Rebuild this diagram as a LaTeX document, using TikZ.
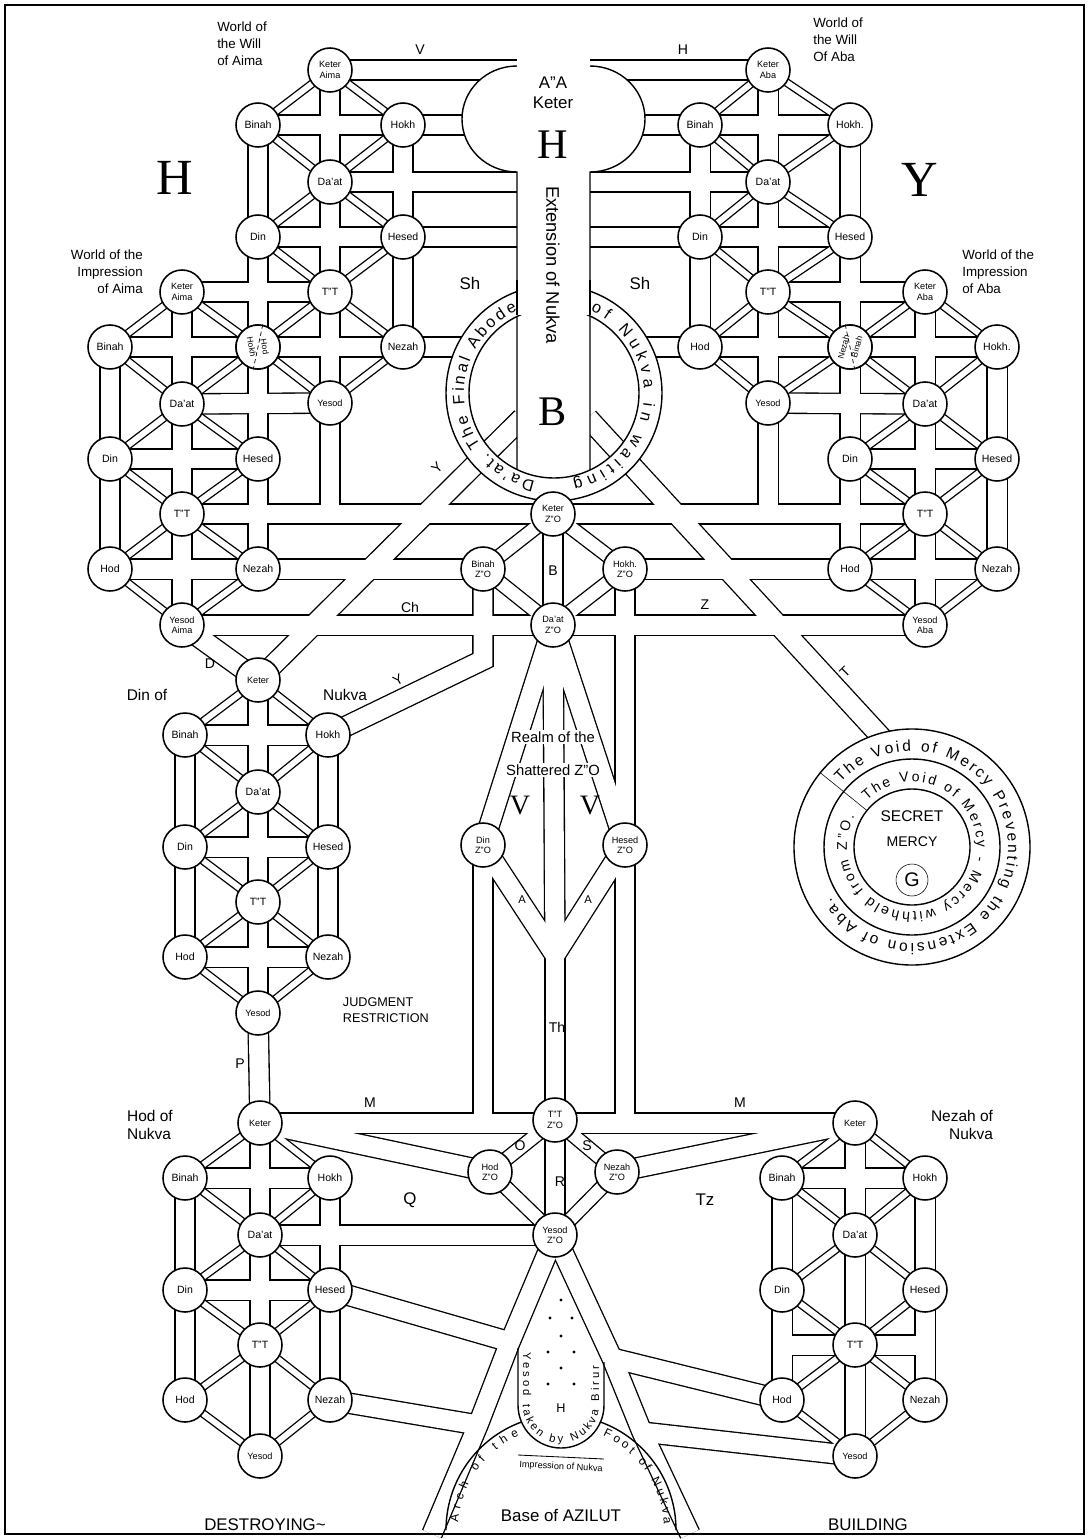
\documentclass[tikz,border=0pt]{standalone}
\usepackage{fontspec}
\setmainfont{Liberation Sans}
\newfontfamily\bigserif{Liberation Serif}
\usetikzlibrary{calc,decorations.text}

\pgfdeclarelayer{paper}
\pgfdeclarelayer{rim}
\pgfdeclarelayer{core}
\pgfdeclarelayer{body}
\pgfsetlayers{paper,rim,core,body,main}

\newcommand{\sz}[2]{\fontsize{#1}{#2}\selectfont}

% channel: dark rim first, white core on the layer above it
\newcommand{\pipe}[2][13.5pt]{%
  \begin{pgfonlayer}{rim}\draw[line width=#1+1.9pt] #2;\end{pgfonlayer}%
  \begin{pgfonlayer}{core}\draw[white, line width=#1] #2;\end{pgfonlayer}}

\pgfkeys{/lbl/.cd, bi/.initial=Binah, ho/.initial=Hokh, hd/.initial=Hod, ne/.initial=Nezah}

\tikzset{
  sef/.style={circle, draw, fill=white, line width=1.1pt, minimum size=1.1cm,
    inner sep=0pt, align=center, font=\sz{7.5}{8}},
  sef2/.style={sef, font=\sz{6.5}{7.5}},
  note/.style={font=\sz{9.5}{12}, inner sep=0pt},
  tag/.style={font=\sz{10}{10}, inner sep=1pt},
  huge letter/.style={font=\bigserif\sz{36}{36}},
  ringtext/.style={decorate, decoration={text along path, text align={fit to path}, text={#1}}},
}

% ten sefirot: prefix, left x, middle x, right x, top y, Keter text, Yesod text
\newcommand{\sefirot}[7]{%
  \node[sef2] (#1-ke) at (#3,#5) {#6};
  \node[sef]  (#1-bi) at (#2,#5+55) {\pgfkeysvalueof{/lbl/bi}};
  \node[sef]  (#1-ho) at (#4,#5+55) {\pgfkeysvalueof{/lbl/ho}};
  \node[sef]  (#1-da) at (#3,#5+112) {Da'at};
  \node[sef]  (#1-di) at (#2,#5+167) {Din};
  \node[sef]  (#1-he) at (#4,#5+167) {Hesed};
  \node[sef]  (#1-tt) at (#3,#5+222) {T"T};
  \node[sef]  (#1-hd) at (#2,#5+277) {\pgfkeysvalueof{/lbl/hd}};
  \node[sef]  (#1-ne) at (#4,#5+277) {\pgfkeysvalueof{/lbl/ne}};
  \node[sef2] (#1-ye) at (#3,#5+333) {#7};}

\begin{document}
\begin{tikzpicture}[x=0.025cm, y=-0.025cm, line width=0.9pt]
\useasboundingbox (0,0) rectangle (1089,1539);
\begin{pgfonlayer}{paper}\fill[white] (0,0) rectangle (1089,1539);\end{pgfonlayer}

% the seven trees
{\pgfkeys{/lbl/hd=}\sefirot{wa}{258}{330}{403}{70}{Keter\\Aima}{Yesod}}
{\pgfkeys{/lbl/ho=}\sefirot{ia}{110}{182}{258}{292}{Keter\\Aima}{Yesod\\Aima}}
{\pgfkeys{/lbl/ho=Hokh., /lbl/ne=}\sefirot{wb}{700}{768}{850}{70}{Keter\\Aba}{Yesod}}
{\pgfkeys{/lbl/ho=Hokh., /lbl/bi=}\sefirot{ib}{850}{925}{997}{292}{Keter\\Aba}{Yesod\\Aba}}
\sefirot{dn}{185}{258}{328}{680}{Keter}{Yesod}
\sefirot{hn}{185}{260}{330}{1123}{Keter}{Yesod}
\sefirot{nn}{782}{855}{925}{1123}{Keter}{Yesod}

% shared circles
\draw[densely dashed, line width=0.5pt] (wa-hd.78) -- (wa-hd.258);
\node[font=\sz{6}{6}, rotate=-80] (aimaHokh) at ([xshift=-0.16cm]wa-hd.center) {Hokh};
\node[font=\sz{6}{6}, rotate=-80] (aimaHod) at ([xshift=0.17cm]wa-hd.center) {Hod};
\draw[densely dashed, line width=0.5pt] (wb-ne.102) -- (wb-ne.282);
\node[font=\sz{6}{6}, rotate=75] (abaNez) at ([xshift=-0.16cm]wb-ne.center) {Nezah};
\node[font=\sz{6}{6}, rotate=75] (abaBin) at ([xshift=0.17cm]wb-ne.center) {Binah};

% Z"O
\node[sef2] (zo-ke) at (553,514) {Keter\\Z"O};
\node[sef2] (zo-bi) at (483,569) {Binah\\Z"O};
\node[sef2] (zo-ho) at (625,569) {Hokh.\\Z"O};
\node[sef2] (zo-da) at (553,625) {Da'at\\Z"O};
\node[sef2] (zo-di) at (483,845) {Din\\Z"O};
\node[sef2] (zo-he) at (625,845) {Hesed\\Z"O};
\node[sef2] (zo-tt) at (555,1120) {T"T\\Z"O};
\node[sef2] (zo-hd) at (490,1172) {Hod\\Z"O};
\node[sef2] (zo-ne) at (617,1172) {Nezah\\Z"O};
\node[sef2] (zo-ye) at (555,1235) {Yesod\\Z"O};

\coordinate (rc) at (554,393);
\coordinate (vc) at (912,847);
\coordinate (zo-bend) at (483,660);
\coordinate (yj) at (555,955);
\coordinate (ytop) at (522,418);
\coordinate (ttop) at (588,418);
\coordinate (vt) at (895,752);
\coordinate (p1) at (510,1342);
\coordinate (p2) at (478,1425);
\coordinate (pb) at (432,1534);
\coordinate (q1) at (612,1358);
\coordinate (q2) at (642,1432);
\coordinate (qb) at (690,1534);
\coordinate (ac) at (561,1530);

% channels inside every tree
\foreach \t in {wa,ia,wb,ib,dn,hn,nn}{
  \foreach \a/\b in {ke/bi,ke/ho,bi/da,ho/da,da/di,da/he,di/tt,he/tt,tt/hd,tt/ne,hd/ye,ne/ye}
    {\pipe[4.2pt]{(\t-\a.center) -- (\t-\b.center)}}
  \pipe{(\t-bi.center) -- (\t-di.center) -- (\t-hd.center)}
  \pipe{(\t-ho.center) -- (\t-he.center) -- (\t-ne.center)}
  \pipe{(\t-ke.center) -- (\t-ye.center)}
  \pipe{(\t-bi.center) -- (\t-ho.center)}
}
\foreach \t in {wa,ia,wb,ib,dn,hn}{\pipe{(\t-di.center) -- (\t-he.center)}}
\foreach \t in {wa,ia,wb,ib,dn}{\pipe{(\t-hd.center) -- (\t-ne.center)}}
\pipe{(nn-tt -| nn-di) -- (nn-tt -| nn-he)}

% upper worlds into A"A
\pipe{(wa-ke.center) -- (wb-ke.center)}
\pipe{(wa-ho.center) -- (wb-bi.center)}
\pipe{(wa-da.center) -- (wb-da.center)}
\pipe{(wa-he.center) -- (wb-di.center)}
\pipe{(wa-ne.center) -- (470,347)}
\pipe{(wb-hd.center) -- (638,347)}
\pipe{(ia-ke.center) -- (wa-tt.center)}
\pipe{(ia-da.center) -- (wa-ye.center)}
\pipe{(ib-ke.center) -- (wb-tt.center)}
\pipe{(ib-da.center) -- (wb-ye.center)}
\pipe{(wa-ye.center) -- (wa-ye |- ia-tt)}
\pipe{(wb-ye.center) -- (wb-ye |- ib-tt)}
\pipe{(ia-tt.center) -- (ib-tt.center)}
\pipe{(ia-ne.center) -- (zo-bi.center)}
\pipe{(zo-ho.center) -- (ib-hd.center)}
\pipe{(ia-ye.center) -- (ib-ye.center)}

% Z"O
\foreach \a/\b in {ke/bi,ke/ho,bi/da,ho/da,tt/hd,tt/ne,hd/ye,ne/ye}
  {\pipe[9pt]{(zo-\a.center) -- (zo-\b.center)}}
\pipe{(zo-ke.center) -- (zo-da.center)}
\pipe{(zo-bi.center) -- (zo-bend) -- (dn-ho.center)}
\pipe{(zo-ho.center) -- (zo-he.center) -- (zo-he |- hn-ke)}
\pipe{(zo-di.center) -- (zo-di |- hn-ke)}
\foreach \a in {zo-di,zo-he,yj}{\pipe{(zo-da.center) -- (\a.center)}}
\pipe{(zo-di.center) -- (yj) -- (zo-he.center)}
\pipe{(yj) -- (zo-tt.center)}
\pipe{(hn-ke.center) -- (nn-ke.center)}
\pipe{(zo-tt.center) -- (zo-ye.center)}
\pipe{(hn-ke.center) -- (zo-hd.center)}
\pipe{(nn-ke.center) -- (zo-ne.center)}
\pipe{(hn-da.center) -- (zo-ye.center)}

% links between the worlds
\pipe{(ia-ye.center) -- (dn-ke.center)}
\pipe{(dn-ke.center) -- (ytop)}
\pipe{(dn-ye.center) -- (hn-ke.center)}
\pipe{(ttop) -- (vt)}

% feet
\pipe{(zo-ye.center) -- (p1) -- (p2) -- (pb)}
\pipe{(hn-he.center) -- (p1)}
\pipe{(hn-ne.center) -- (p2)}
\pipe{(zo-ye.center) -- (q1) -- (q2) -- (qb)}
\pipe{(nn-hd.center) -- (q1)}
\pipe{(nn-ye.center) -- (q2)}

% A"A, the ring and the void
\begin{pgfonlayer}{body}
  \fill[white] (517,40) rectangle (590,180);
  \draw[line width=1pt, fill=white] (517,66) arc[start angle=270, end angle=90, x radius=55, y radius=53]
    -- (517,490) -- (590,490) -- (590,172) arc[start angle=90, end angle=-90, x radius=55, y radius=53];
  \draw[line width=1pt, fill=white, even odd rule] (rc) circle[radius=108] (rc) circle[radius=85];
  \fill[white] (518,280) rectangle (589,315);
  \draw[line width=1pt] (517,280) -- (517,315) (590,280) -- (590,315);
  \draw[line width=1pt, fill=white] (vc) circle[radius=118];
  \draw[line width=1pt] (vc) circle[radius=88] (vc) circle[radius=58];
  \draw ($(vc)+(219:58)$) -- ($(vc)+(219:118)$);
  \draw (912,880) circle[radius=16];
\end{pgfonlayer}

\path[ringtext={|\sz{11.5}{11.5}|Da'at. The Final Abode}] ($(rc)+(102:90)$) arc[start angle=102, end angle=246, radius=90];
\path[ringtext={|\sz{11.5}{11.5}|of Nukva in waiting}] ($(rc)+(294:90)$) arc[start angle=294, end angle=438, radius=90];
\path[ringtext={|\sz{11}{11}|The Void of Mercy Preventing the Extension of Aba.}] ($(vc)+(222:96)$) arc[start angle=222, end angle=508, radius=96];
\path[ringtext={|\sz{10}{10}|The Void of Mercy - Mercy withheld from Z"O.}] ($(vc)+(226:65)$) arc[start angle=226, end angle=568, radius=65];

% base of Azilut
\draw[line width=1pt] ($(ac)+(180:115)$) arc[start angle=180, end angle=250, radius=115];
\draw[line width=1pt] ($(ac)+(290:115)$) arc[start angle=290, end angle=360, radius=115];
\draw[line width=1pt] (518,1348) -- (518,1405) arc[start angle=180, end angle=0, radius=43] -- (604,1362);
\path[ringtext={|\sz{8}{8}|Yesod taken by Nukva Birur}] (523,1352) -- (523,1405) arc[start angle=180, end angle=0, radius=38] -- (599,1366);
\path[ringtext={|\sz{8.5}{8.5}|Arch of the}] ($(ac)+(184:103)$) arc[start angle=184, end angle=246, radius=103];
\path[ringtext={|\sz{8.5}{8.5}|Foot of Nukva}] ($(ac)+(294:103)$) arc[start angle=294, end angle=357, radius=103];
\draw[line width=0.6pt] (518,1455) -- (604,1459);
\node[font=\sz{6.5}{6.5}, rotate=-3] (impr) at (561,1467) {Impression of Nukva};
\foreach \x/\y in {561/1300,550/1318,572/1318,561/1336,548/1352,574/1352,561/1368,548/1384,574/1384}
  \fill (\x,\y) circle[radius=1.7];
\node[font=\sz{9}{9}] (uH) at (561,1408) {H};

% texts
\node[note, align=left, anchor=north west] (willAima) at (217,22) {World of\\the Will\\of Aima};
\node[note, align=left, anchor=north west] (willAba) at (813,18) {World of\\the Will\\Of Aba};
\node[note, align=right, anchor=north east] (impAima) at (143,250) {World of the\\Impression\\of Aima};
\node[note, align=left, anchor=north west] (impAba) at (962,250) {World of the\\Impression\\of Aba};
\node[huge letter] (bigH) at (175,178) {H};
\node[huge letter] (bigY) at (920,180) {Y};
\node[tag] (tV) at (420,50) {V};
\node[tag] (tHt) at (683,50) {H};
\node[font=\sz{12}{14}, align=center] (aaName) at (553,93) {A"A\\Keter};
\node[font=\bigserif\sz{30}{30}] (aaH) at (553,145) {H};
\node[font=\sz{13}{13}, rotate=-90] (ext) at (553,265) {Extension of Nukva};
\node[font=\bigserif\sz{30}{30}] (aaB) at (553,412) {B};
\node[font=\sz{12}{12}] (sh1) at (470,283) {Sh};
\node[font=\sz{12}{12}] (sh2) at (640,283) {Sh};
\node[tag, rotate=45] (tY1) at (437,468) {Y};
\node[tag] (tB) at (553,571) {B};
\node[tag] (tCh) at (410,607) {Ch};
\node[tag] (tZ) at (705,605) {Z};
\node[tag] (tD) at (210,664) {D};
\node[tag, rotate=30] (tY2) at (398,680) {Y};
\node[tag, rotate=45] (tT) at (845,672) {T};
\node[font=\sz{11}{11}] (dinOf) at (147,695) {Din of};
\node[font=\sz{11}{11}] (dinNuk) at (345,695) {Nukva};
\node[font=\sz{10.5}{10.5}, fill=white, inner sep=1pt] (realm1) at (553,737) {Realm of the};
\node[font=\sz{10.5}{10.5}, fill=white, inner sep=1pt] (realm2) at (553,770) {Shattered Z"O};
\node[font=\bigserif\sz{20}{20}] (v1) at (520,805) {V};
\node[font=\bigserif\sz{20}{20}] (v2) at (590,805) {V};
\node[font=\sz{8}{8}] (a1) at (522,900) {A};
\node[font=\sz{8}{8}] (a2) at (588,900) {A};
\node[font=\sz{9}{11}, align=left, anchor=west] (judg) at (338,1010) {JUDGMENT\\RESTRICTION};
\node[tag] (tTh) at (557,1027) {Th};
\node[tag] (tP) at (240,1064) {P};
\node[font=\sz{11}{13}, align=left] (hodOf) at (150,1125) {Hod of\\Nukva};
\node[font=\sz{11}{13}, align=right] (nezOf) at (962,1125) {Nezah of\\Nukva};
\node[tag] (tM1) at (370,1103) {M};
\node[tag] (tM2) at (740,1103) {M};
\node[tag] (tO) at (520,1146) {O};
\node[tag] (tS) at (587,1146) {S};
\node[tag] (tR) at (560,1182) {R};
\node[font=\sz{12}{12}] (tQ) at (410,1200) {Q};
\node[font=\sz{12}{12}] (tTz) at (705,1200) {Tz};
\node[font=\sz{11}{11}] (secret) at (912,816) {SECRET};
\node[font=\sz{10}{10}] (mercy) at (912,842) {MERCY};
\node[font=\sz{14}{14}] (gee) at (912,880) {G};
\node[font=\sz{12}{12}] (destr) at (265,1525) {DESTROYING\textasciitilde};
\node[font=\sz{12}{12}] (base) at (561,1515) {Base of AZILUT};
\node[font=\sz{12}{12}] (build) at (868,1525) {BUILDING};

\draw[line width=2pt] (5,5) rectangle (1084,1534);
\end{tikzpicture}
\end{document}
